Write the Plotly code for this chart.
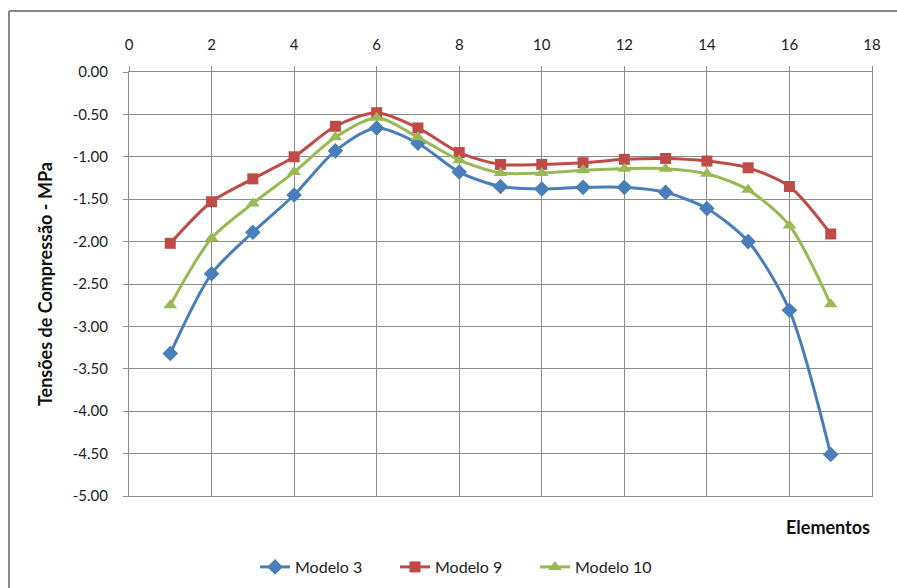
import plotly.graph_objects as go

elementos = [1, 2, 3, 4, 5, 6, 7, 8, 9, 10, 11, 12, 13, 14, 15, 16, 17]
modelo_3 = [-3.32, -2.38, -1.89, -1.45, -0.93, -0.66, -0.84, -1.18, -1.35, -1.38, -1.36, -1.36, -1.42, -1.61, -2.00, -2.81, -4.51]
modelo_9 = [-2.02, -1.53, -1.26, -1.00, -0.64, -0.48, -0.66, -0.95, -1.09, -1.09, -1.07, -1.03, -1.02, -1.05, -1.13, -1.35, -1.91]
modelo_10 = [-2.75, -1.96, -1.55, -1.18, -0.77, -0.54, -0.77, -1.04, -1.19, -1.19, -1.16, -1.14, -1.14, -1.20, -1.39, -1.81, -2.74]

x_ticks = [0, 2, 4, 6, 8, 10, 12, 14, 16, 18]
y_ticks = [0, -0.5, -1, -1.5, -2, -2.5, -3, -3.5, -4, -4.5, -5]
y_tick_labels = ["0.00", "-0.50", "-1.00", "-1.50", "-2.00", "-2.50", "-3.00", "-3.50", "-4.00", "-4.50", "-5.00"]

FONT = "Lato"
GRID = "#8c8c8c"

fig = go.Figure()
series = [
    ("Modelo 3", modelo_3, "#4A7EBB", "diamond", 12),
    ("Modelo 9", modelo_9, "#BE4B48", "square", 11),
    ("Modelo 10", modelo_10, "#98B954", "triangle-up", 12),
]
for name, vals, color, sym, size in series:
    fig.add_trace(go.Scatter(
        x=elementos, y=vals, name=name, mode="lines+markers",
        line=dict(color=color, width=3, shape="spline", smoothing=0.8),
        marker=dict(symbol=sym, size=size, color=color),
    ))

fig.update_layout(
    width=897, height=588,
    margin=dict(l=129, r=25, t=72, b=92),
    paper_bgcolor="white", plot_bgcolor="white",
    font=dict(family=FONT, size=14, color="#222"),
    showlegend=True,
    legend=dict(orientation="h", xref="container", yref="container",
                x=255/897, xanchor="left", y=1-567/588, yanchor="middle",
                font=dict(family=FONT, size=16, color="#222"),
                entrywidth=95, entrywidthmode="pixels",
                tracegroupgap=0),
    xaxis=dict(side="top", range=[0, 18], tickvals=x_ticks,
               ticktext=[str(v) for v in x_ticks],
               showgrid=True, gridcolor=GRID, gridwidth=1,
               showline=True, linecolor=GRID, linewidth=1, mirror=True,
               ticks="outside", ticklen=5, tickcolor=GRID, ticklabelstandoff=10,
               zeroline=False, tickfont=dict(size=15)),
    yaxis=dict(range=[-5, 0], tickvals=y_ticks, ticktext=y_tick_labels,
               showgrid=True, gridcolor=GRID, gridwidth=1,
               showline=True, linecolor=GRID, linewidth=1, mirror=True,
               ticks="outside", ticklen=5, tickcolor=GRID, ticklabelstandoff=12,
               zeroline=False, tickfont=dict(size=15)),
    annotations=[
        dict(text="<b>Tensões de Compressão - MPa</b>", xref="paper", yref="paper",
             x=-0.113, y=0.5, textangle=-90, showarrow=False,
             font=dict(family=FONT, size=18, color="#111"),
             xanchor="center", yanchor="middle"),
        dict(text="<b>Elementos</b>", xref="paper", yref="paper",
             x=1.0, y=-(527-496)/424, showarrow=False,
             font=dict(family=FONT, size=18, color="#111"),
             xanchor="right", yanchor="middle"),
    ],
    shapes=[
        dict(type="line", xref="paper", yref="paper", x0=(9-129)/743, x1=(897-129)/743,
             y0=(496-11)/424, y1=(496-11)/424, line=dict(color="#888", width=2)),
        dict(type="line", xref="paper", yref="paper", x0=(9-129)/743, x1=(9-129)/743,
             y0=(496-11)/424, y1=(496-590)/424, line=dict(color="#888", width=2)),
    ],
)

fig.write_html("out.html", config={"displayModeBar": False},
               post_script="document.body.style.margin='0';document.body.style.overflow='hidden';")
